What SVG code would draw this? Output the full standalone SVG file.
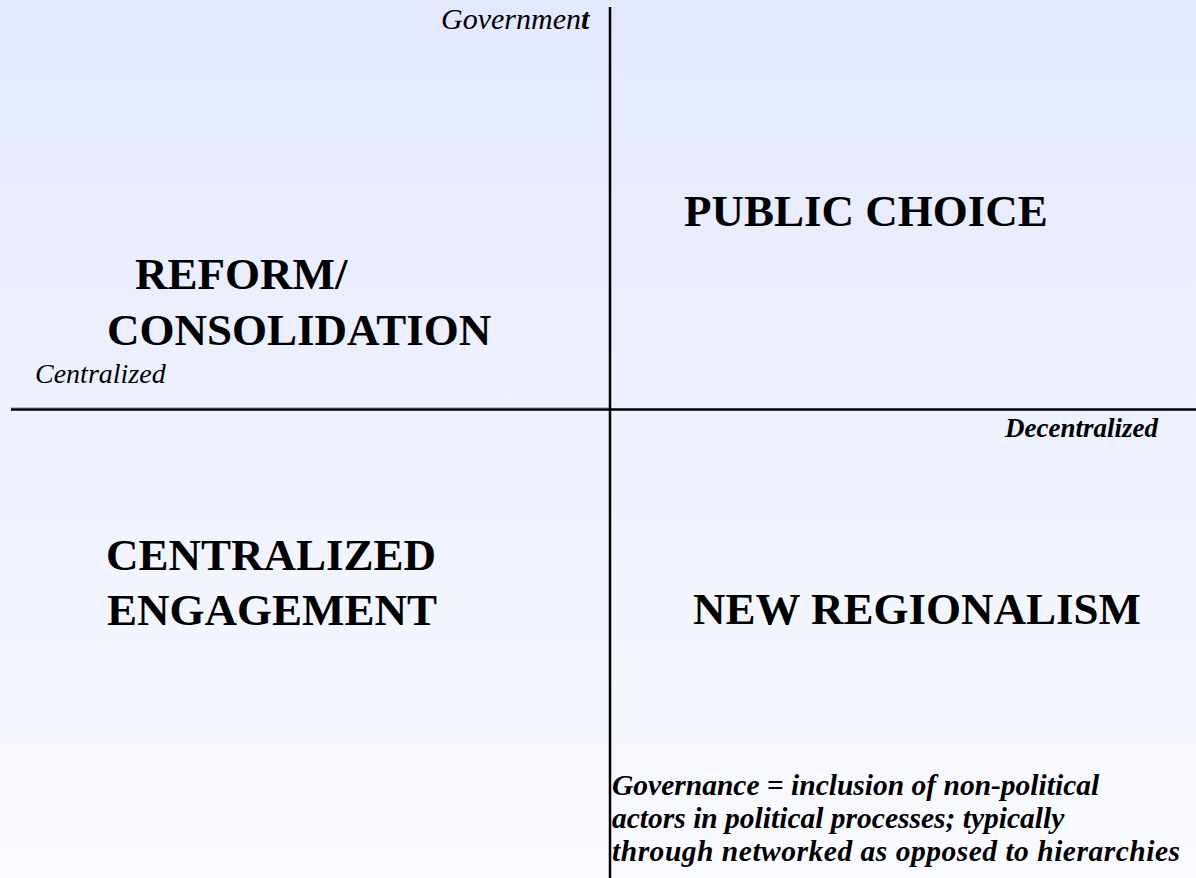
<svg xmlns="http://www.w3.org/2000/svg" width="1196" height="878" viewBox="0 0 1196 878">
<defs>
<linearGradient id="bg" x1="0" y1="0" x2="0" y2="1">
<stop offset="0" stop-color="#E3E8FD"/>
<stop offset="1" stop-color="#FAFBFF"/>
</linearGradient>
<style>
.axis{stroke:#000;stroke-width:2.5;fill:none}
.big{font-family:"Liberation Serif","Times New Roman",serif;font-weight:bold;font-size:45px;fill:#000}
.lab{font-family:"Liberation Serif","Times New Roman",serif;font-style:italic;font-size:28px;fill:#000}
.gov{font-size:30px}
.labb{font-family:"Liberation Serif","Times New Roman",serif;font-style:italic;font-weight:bold;font-size:27px;fill:#000}
.note{font-family:"Liberation Serif","Times New Roman",serif;font-style:italic;font-weight:bold;font-size:29.5px;fill:#000}
</style>
</defs>
<rect x="0" y="0" width="1196" height="878" fill="url(#bg)"/>
<g id="connectors">
<line x1="11" y1="407.5" x2="609" y2="407.5" stroke="#B8BCC8" stroke-width="1"/>
<line class="axis" x1="610" y1="7" x2="610" y2="878"/>
<line class="axis" x1="11" y1="409.5" x2="1196" y2="409.5"/>
</g>
<g id="government"><text class="lab gov" x="441" y="29">Governmen<tspan font-weight="bold">t</tspan></text></g>
<g id="centralized-label"><text class="lab" x="35" y="383">Centralized</text></g>
<g id="decentralized-label"><text class="labb" x="1158" y="437" text-anchor="end">Decentralized</text></g>
<g id="reform"><text class="big"><tspan x="135" y="289">REFORM/</tspan><tspan x="107" y="345">CONSOLIDATION</tspan></text></g>
<g id="public-choice"><text class="big" x="684" y="226">PUBLIC CHOICE</text></g>
<g id="centralized-engagement"><text class="big"><tspan x="106" y="570">CENTRALIZED</tspan><tspan x="107" y="625">ENGAGEMENT</tspan></text></g>
<g id="new-regionalism"><text class="big" x="693" y="624">NEW REGIONALISM</text></g>
<g id="governance"><text class="note"><tspan x="612" y="795">Governance = inclusion of non-political</tspan><tspan x="612" y="828">actors in political processes; typically</tspan><tspan x="612" y="861" textLength="568" lengthAdjust="spacing">through networked as opposed to hierarchies</tspan></text></g>
</svg>
